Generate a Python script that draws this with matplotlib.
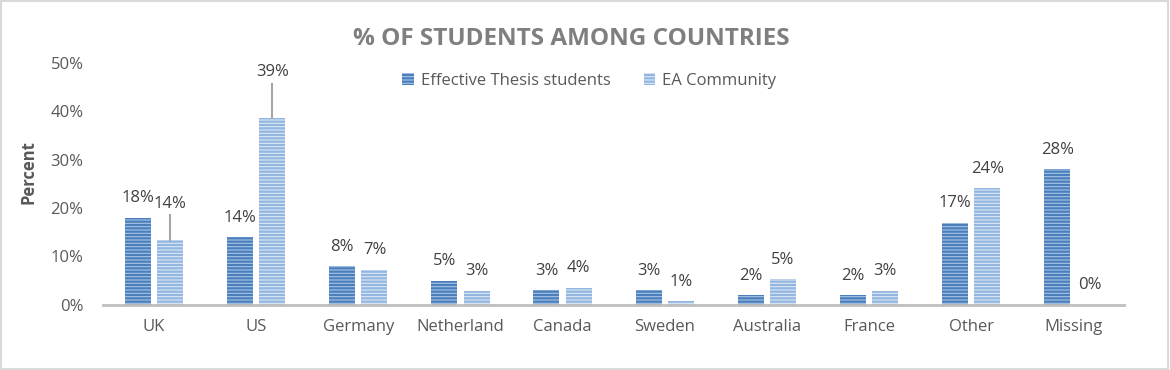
import numpy as np
import matplotlib
matplotlib.use("Agg")
import matplotlib.pyplot as plt
from matplotlib.patches import Rectangle

countries = ["UK", "US", "Germany", "Netherland", "Canada", "Sweden",
             "Australia", "France", "Other", "Missing"]
thesis = [18, 14, 8, 5, 3, 3, 2, 2, 17, 28]
ea_comm = [13.5, 38.7, 7.3, 2.9, 3.5, 0.8, 5.3, 2.9, 24.1, 0.0]
thesis_labels = ["18%", "14%", "8%", "5%", "3%", "3%", "2%", "2%", "17%", "28%"]
ea_labels = ["14%", "39%", "7%", "3%", "4%", "1%", "5%", "3%", "24%", "0%"]

plt.rcParams["font.family"] = ["Open Sans", "DejaVu Sans"]
plt.rcParams["hatch.linewidth"] = 1.6

txt = "#595959"
fig = plt.figure(figsize=(11.7, 3.7), dpi=100)
fig.patch.set_facecolor("white")
fig.patches.append(Rectangle((0.001, 0.002), 0.997, 0.995, transform=fig.transFigure,
                             fill=False, edgecolor="#d9d9d9", linewidth=1.5))
ax = fig.add_axes([0.088, 0.176, 0.873, 0.654])

x = np.arange(len(countries))
w = 0.255
off = 0.158
b1 = ax.bar(x - off, thesis, w, color="#a7c3e6", edgecolor="#4a7fbb",
            hatch="-----", linewidth=0, label="Effective Thesis students")
b2 = ax.bar(x + off, ea_comm, w, color="#dbe7f6", edgecolor="#93b6e0",
            hatch="-----", linewidth=0, label="EA Community")

# data labels
for i in range(len(x)):
    ax.annotate(thesis_labels[i], (x[i] - off, thesis[i]), xytext=(0, 14),
                textcoords="offset points", ha="center", va="center",
                fontsize=12, color="#404040")
    if countries[i] in ("UK", "US"):
        # labels pulled up with leader lines
        lift = 5 if countries[i] == "UK" else 7
        ytop = ea_comm[i] + lift + 2.4
        ax.plot([x[i] + off, x[i] + off], [ea_comm[i], ea_comm[i] + lift],
                color="#a6a6a6", lw=1.5)
        ax.text(x[i] + off, ytop, ea_labels[i], ha="center", va="center",
                fontsize=12, color="#404040")
    else:
        ax.annotate(ea_labels[i], (x[i] + off, ea_comm[i]), xytext=(0, 14),
                    textcoords="offset points", ha="center", va="center",
                    fontsize=12, color="#404040")

ax.set_xlim(-0.5, len(x) - 0.5)
ax.set_ylim(0, 50)
ax.set_yticks(np.arange(0, 51, 10))
ax.set_yticklabels([f"{v}%" for v in range(0, 51, 10)])
ax.set_xticks(x)
ax.set_xticklabels(countries)
ax.tick_params(axis="both", length=0, labelsize=12, colors=txt)
ax.tick_params(axis="y", pad=14)
ax.tick_params(axis="x", pad=10)
for s in ["top", "right", "left"]:
    ax.spines[s].set_visible(False)
ax.spines["bottom"].set_color("#bfbfbf")
ax.spines["bottom"].set_linewidth(2)

ax.set_ylabel("Percent", fontsize=12, fontweight="bold", color=txt)
ax.yaxis.set_label_coords(-0.064, 0.55)

ax.legend(loc="center", bbox_to_anchor=(0.476, 0.925), ncol=2, frameon=False,
          fontsize=12, labelcolor=txt, handlelength=0.7, handleheight=0.7,
          columnspacing=2.0, handletextpad=0.4)

fig.text(0.488, 0.895, "% OF STUDENTS AMONG COUNTRIES", ha="center", va="center",
         fontsize=17.5, fontweight="bold", color="#7f7f7f")

fig.savefig("out.png", dpi=100)
